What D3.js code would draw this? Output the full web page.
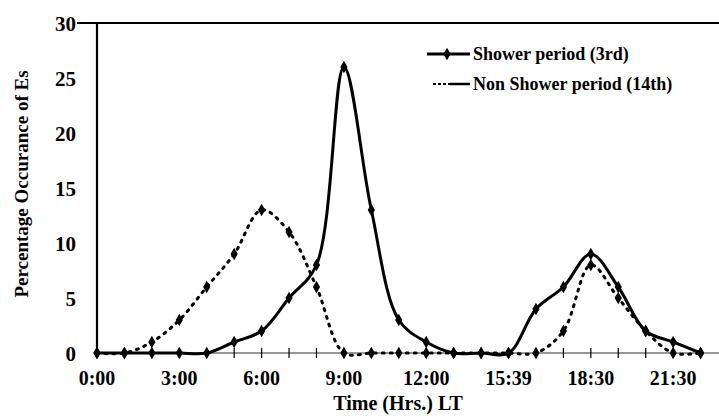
<!DOCTYPE html>
<html><head><meta charset="utf-8">
<script src="https://cdn.jsdelivr.net/npm/d3@7"></script>
<style>body{margin:0;background:#fff}svg{display:block}</style>
</head><body><svg id="c" width="719" height="416"></svg>
<script>
const hours = [0,1,2,3,4,5,6,7,8,9,10,11,12,13,14,15,16,17,18,19,20,21,22];
const shower =    [0,0,0,0,0,1,2,5,8,26,13,3,1,0,0,0,4,6,9,6,2,1,0];
const nonShower = [0,0,1,3,6,9,13,11,6,0,0,0,0,0,0,0,0,2,8,5,2,0,0];
const xTickPos = [0,3,6,9,12,15,18,21];
const xTickLabels = ["0:00","3:00","6:00","9:00","12:00","15:39","18:30","21:30"];
const yTicks = [0,5,10,15,20,25,30];
const seriesNames = ["Shower period (3rd)","Non Shower period (14th)"];

const svg = d3.select("#c");
const font = "'Liberation Serif','Times New Roman',serif";
const x = d3.scaleLinear().domain([0,23]).range([97,728]);
const y = d3.scaleLinear().domain([0,30]).range([353,23]);

// frame: left axis + top line
svg.append("line").attr("x1",x(0)).attr("x2",x(0)).attr("y1",y(30)).attr("y2",y(0)+1)
  .attr("stroke","#000").attr("stroke-width",2.2);
svg.append("line").attr("x1",77).attr("x2",719).attr("y1",y(30)).attr("y2",y(30))
  .attr("stroke","#000").attr("stroke-width",2.2);

// x baseline with cross ticks
svg.append("line").attr("x1",x(0)).attr("x2",719).attr("y1",y(0)).attr("y2",y(0))
  .attr("stroke","#333").attr("stroke-width",1);
svg.append("g").selectAll("line").data(hours).join("line")
  .attr("x1",d=>x(d)).attr("x2",d=>x(d)).attr("y1",y(0)-5).attr("y2",y(0)+5)
  .attr("stroke","#000").attr("stroke-width",1.2);

// y tick labels
svg.append("g").selectAll("text").data(yTicks).join("text")
  .attr("x",76).attr("y",d=>y(d)).attr("dy","0.36em").attr("text-anchor","end")
  .attr("font-family",font).attr("font-weight","bold").attr("font-size",21)
  .text(d=>d);

// x tick labels
svg.append("g").selectAll("text").data(xTickPos).join("text")
  .attr("x",d=>x(d)).attr("y",385).attr("text-anchor","middle")
  .attr("font-family",font).attr("font-weight","bold").attr("font-size",20)
  .text((d,i)=>xTickLabels[i]);

// axis titles
svg.append("text").attr("x",398).attr("y",410).attr("text-anchor","middle")
  .attr("font-family",font).attr("font-weight","bold").attr("font-size",20)
  .text("Time (Hrs.) LT");
svg.append("text").attr("transform","translate(28,184) rotate(-90)").attr("text-anchor","middle")
  .attr("font-family",font).attr("font-weight","bold").attr("font-size",19)
  .text("Percentage Occurance of Es");

const line = d3.line().x((d,i)=>x(hours[i])).y(d=>y(d)).curve(d3.curveCatmullRom.alpha(0.5));
const diamond = d3.symbol().type(d3.symbolDiamond).size(45);

// non-shower: dotted
svg.append("path").attr("d",line(nonShower)).attr("fill","none").attr("stroke","#000")
  .attr("stroke-width",3).attr("stroke-dasharray","2,6").attr("stroke-linecap","round");
svg.append("g").selectAll("path").data(nonShower).join("path")
  .attr("transform",(d,i)=>`translate(${x(hours[i])},${y(d)})`).attr("d",diamond).attr("fill","#000");

// shower: solid
svg.append("path").attr("d",line(shower)).attr("fill","none").attr("stroke","#000")
  .attr("stroke-width",3).attr("stroke-linejoin","round");
svg.append("g").selectAll("path").data(shower).join("path")
  .attr("transform",(d,i)=>`translate(${x(hours[i])},${y(d)})`).attr("d",diamond).attr("fill","#000");

// legend
const lg = svg.append("g");
lg.append("line").attr("x1",427).attr("x2",470).attr("y1",54).attr("y2",54).attr("stroke","#000").attr("stroke-width",2.8);
lg.append("path").attr("transform","translate(447,54)").attr("d",diamond).attr("fill","#000");
lg.append("line").attr("x1",433).attr("x2",450).attr("y1",84).attr("y2",84).attr("stroke","#000").attr("stroke-width",2).attr("stroke-dasharray","3,2");
lg.append("line").attr("x1",450).attr("x2",470).attr("y1",84).attr("y2",84).attr("stroke","#000").attr("stroke-width",2.5);
lg.selectAll("text").data(seriesNames).join("text")
  .attr("x",473).attr("y",(d,i)=>54+i*30).attr("dy","0.35em")
  .attr("font-family",font).attr("font-weight","bold").attr("font-size",18)
  .text(d=>d);
</script></body></html>
